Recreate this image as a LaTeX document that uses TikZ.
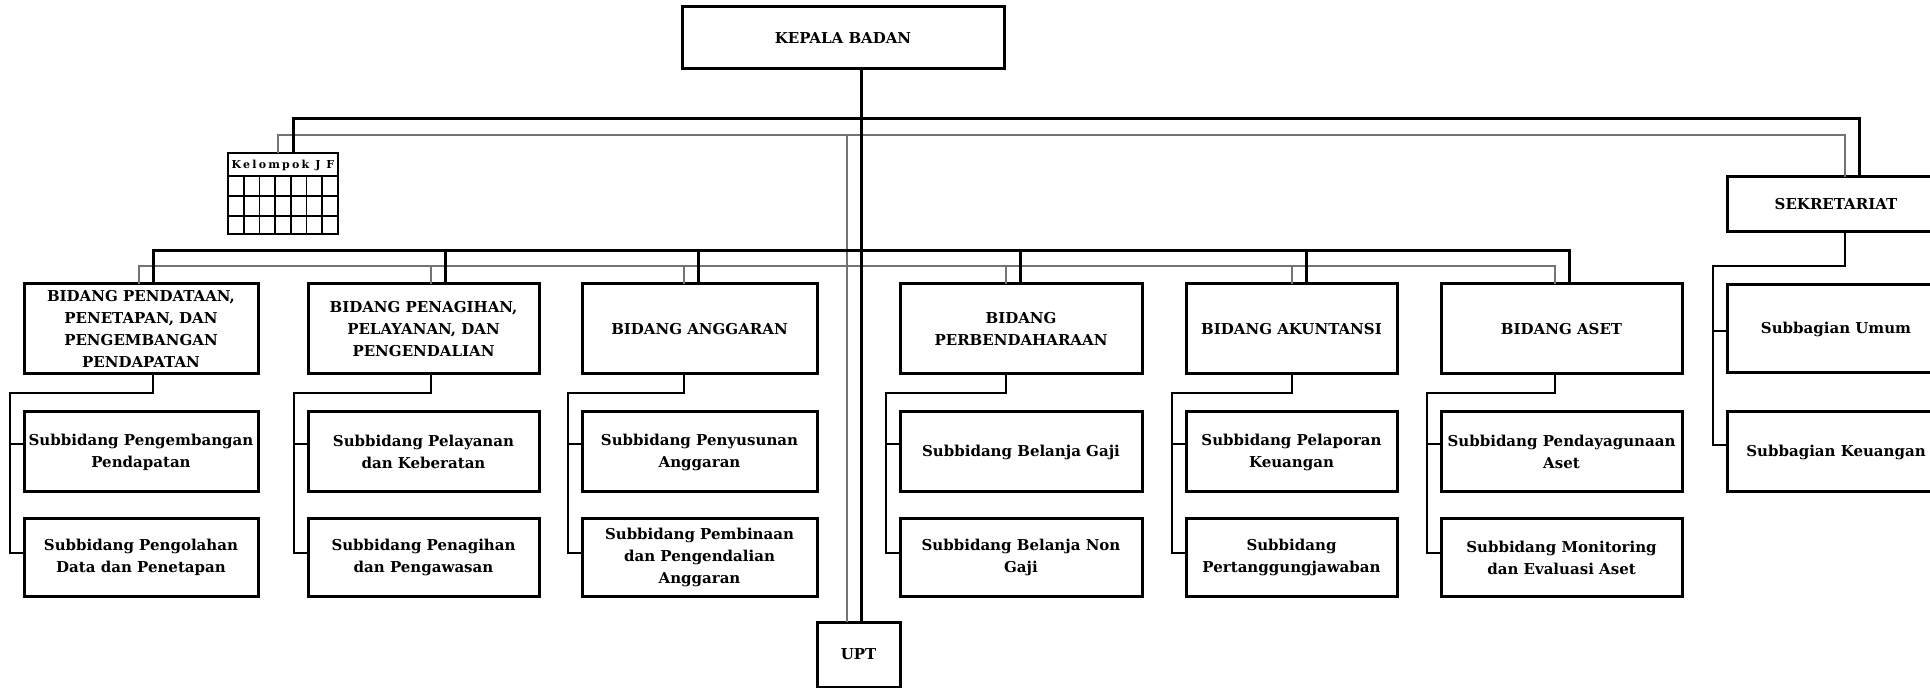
\documentclass[tikz,border=0pt]{standalone}
\usepackage{fontspec}
\setmainfont{DejaVu Serif}
\newfontfamily\spacedfont[LetterSpace=20]{DejaVu Serif}
\usetikzlibrary{positioning,calc}

\tikzset{
  orgbox/.style={draw, line width=1.5pt, outer sep=0pt, inner sep=1pt, align=center,
    font=\bfseries\fontsize{7.5}{11}\selectfont},
  bidang/.style={orgbox, minimum width=#1, minimum height=45pt},
  suba/.style={orgbox, minimum width=#1, minimum height=40pt},
  subb/.style={orgbox, minimum width=#1, minimum height=38.5pt},
  mainline/.style={line width=1.5pt},
  grayline/.style={line width=1pt, black!55},
  subline/.style={line width=1pt},
}

\begin{document}
\begin{tikzpicture}[x=0.5pt, y=-0.5pt, node distance=19pt]
  \useasboundingbox (0,0) rectangle (1930,688);
  \clip (0,0) rectangle (1930,688);

  % top level
  \node (kepala) [orgbox, minimum width=161pt, minimum height=31pt] at (843,38) {KEPALA BADAN};
  \node (upt) [orgbox, minimum width=41.5pt, minimum height=32.5pt] at (858.5,654.5) {UPT};
  \node (sekretariat) [orgbox, minimum width=109pt, minimum height=27.5pt] at (1836,204.5) {SEKRETARIAT};
  \node (umum) [orgbox, minimum width=109pt, minimum height=44pt, below=26.5pt of sekretariat] {Subbagian Umum};
  \node (keuangan) [orgbox, minimum width=109pt, minimum height=40pt, below=19.5pt of umum] {Subbagian Keuangan};

  % kelompok jabatan fungsional
  \node (kelompok) [draw, line width=1pt, outer sep=0pt, minimum width=55pt, minimum height=40.5pt] at (283,193.5) {};
  \node (jf) [inner sep=0pt, font=\spacedfont\bfseries\fontsize{5.5}{6}\selectfont] at (283,165) {Kelompok J F};
  \foreach \r in {176,196,216}
    \draw[line width=1pt] (kelompok.west |- 0,\r) -- (kelompok.east |- 0,\r);
  \foreach \k in {1,...,6}
    \draw[line width=0.8pt] (228+\k*110/7,176) -- (kelompok.south -| 228+\k*110/7,0);

  % bidang
  \node (bid1) [bidang=117pt] at (141,329) {BIDANG PENDATAAN,\\PENETAPAN, DAN\\PENGEMBANGAN\\PENDAPATAN};
  \node (bid2) [bidang=115.5pt] at (423.5,329) {BIDANG PENAGIHAN,\\PELAYANAN, DAN\\PENGENDALIAN};
  \node (bid3) [bidang=117.5pt] at (699.5,329) {BIDANG ANGGARAN};
  \node (bid4) [bidang=121pt] at (1021,329) {BIDANG\\PERBENDAHARAAN};
  \node (bid5) [bidang=105.5pt] at (1291.5,329) {BIDANG AKUNTANSI};
  \node (bid6) [bidang=120.5pt] at (1561.5,329) {BIDANG ASET};

  % subbidang
  \node (suba1) [suba=117pt, below=of bid1] {Subbidang Pengembangan\\Pendapatan};
  \node (subb1) [subb=117pt, below=13.5pt of suba1] {Subbidang Pengolahan\\Data dan Penetapan};
  \node (suba2) [suba=115.5pt, below=of bid2] {Subbidang Pelayanan\\dan Keberatan};
  \node (subb2) [subb=115.5pt, below=13.5pt of suba2] {Subbidang Penagihan\\dan Pengawasan};
  \node (suba3) [suba=117.5pt, below=of bid3] {Subbidang Penyusunan\\Anggaran};
  \node (subb3) [subb=117.5pt, below=13.5pt of suba3] {Subbidang Pembinaan\\dan Pengendalian\\Anggaran};
  \node (suba4) [suba=121pt, below=of bid4] {Subbidang Belanja Gaji};
  \node (subb4) [subb=121pt, below=13.5pt of suba4] {Subbidang Belanja Non\\Gaji};
  \node (suba5) [suba=105.5pt, below=of bid5] {Subbidang Pelaporan\\Keuangan};
  \node (subb5) [subb=105.5pt, below=13.5pt of suba5] {Subbidang\\Pertanggungjawaban};
  \node (suba6) [suba=120.5pt, below=of bid6] {Subbidang Pendayagunaan\\Aset};
  \node (subb6) [subb=120.5pt, below=13.5pt of suba6] {Subbidang Monitoring\\dan Evaluasi Aset};

  % gray lines first
  \draw[grayline] (kelompok.north -| 278,0) -- (278,135) -| (sekretariat.north -| 1845,0);
  \draw[grayline] (847,135) -- (upt.north -| 847,0);
  \draw[grayline] (bid1.north -| 139,0) -- (139,266) -| (bid6.north -| 1555,0);
  \foreach \n/\x in {2/431,3/684,4/1006,5/1292}
    \draw[grayline] (\x,266) -- (bid\n.north -| \x,0);

  % black lines
  \draw[mainline] (kepala.south -| 861,0) -- (upt.north -| 861,0);
  \draw[mainline] (kelompok.north -| 293,0) -- (293,119) -| (sekretariat.north -| 1859,0);
  \draw[mainline] (bid1.north -| 153,0) -- (153,251) -| (bid6.north -| 1569,0);
  \foreach \n/\x in {2/445,3/698,4/1020,5/1306}
    \draw[mainline] (\x,251) -- (bid\n.north -| \x,0);

  % brackets to subbidang
  \foreach \n/\x in {1/153,2/431,3/684,4/1006,5/1292,6/1555} {
    \draw[subline] (bid\n.south -| \x,0) -- (\x,393) -| ([xshift=-7pt,yshift=2.25pt]subb\n.west) -- ([yshift=2.25pt]subb\n.west);
    \draw[subline] ([xshift=-7pt,yshift=4pt]suba\n.west) -- ([yshift=4pt]suba\n.west);
  }
  \draw[subline] (sekretariat.south -| 1845,0) -- (1845,266) -| ([xshift=-7pt,yshift=3.5pt]keuangan.west) -- ([yshift=3.5pt]keuangan.west);
  \draw[subline] ([xshift=-7pt,yshift=-1pt]umum.west) -- ([yshift=-1pt]umum.west);
\end{tikzpicture}
\end{document}
